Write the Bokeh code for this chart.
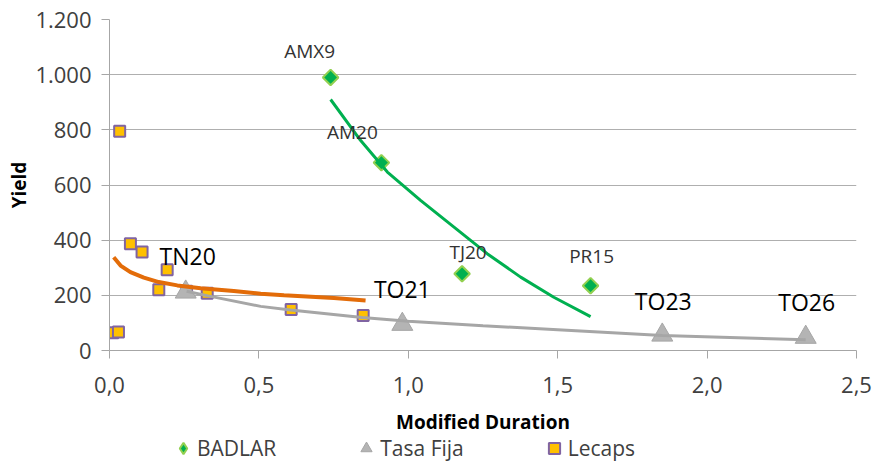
import numpy as np
from bokeh.plotting import figure
from bokeh.layouts import column
from bokeh.models import Range1d, FixedTicker, Legend, LegendItem, ColumnDataSource, Title
from bokeh.core.properties import value
from bokeh.embed import file_html
from bokeh.resources import INLINE

# ---------------- data ----------------
badlar_names = ["AMX9", "AM20", "TJ20", "PR15"]
badlar_x = [0.74, 0.91, 1.18, 1.61]
badlar_y = [990, 681, 278, 235]

tasa_names = ["TN20", "TO21", "TO23", "TO26"]
tasa_x = [0.255, 0.98, 1.85, 2.33]
tasa_y = [212, 95, 56, 48]

lecaps_x = [0.011, 0.030, 0.034, 0.070, 0.109, 0.165, 0.193, 0.258, 0.327, 0.608, 0.849]
lecaps_y = [64, 67, 795, 387, 357, 220, 293, 215, 208, 149, 127]

# trend lines as drawn in the picture
badlar_trend_x = [0.740, 0.840, 0.930, 1.041, 1.153, 1.264, 1.376, 1.487, 1.610]
badlar_trend_y = [910, 762, 647, 544, 447, 351, 266, 193, 123]

tasa_trend_x = [0.258, 0.33, 0.506, 0.606, 0.846, 1.0, 1.25, 1.5, 1.85, 2.33]
tasa_trend_y = [215, 198, 160, 147, 120, 106, 90, 75, 54, 39]

lecaps_trend_x = [0.014, 0.037, 0.070, 0.115, 0.165, 0.227, 0.305, 0.416, 0.506, 0.584, 0.751, 0.857]
lecaps_trend_y = [338, 308, 284, 264, 248, 236, 226, 216, 206, 200, 190, 181]

x_ticks = [0.0, 0.5, 1.0, 1.5, 2.0, 2.5]
x_tick_labels = ["0,0", "0,5", "1,0", "1,5", "2,0", "2,5"]
y_ticks = [0, 200, 400, 600, 800, 1000, 1200]
y_tick_labels = ["0", "200", "400", "600", "800", "1.000", "1.200"]

series_names = ["BADLAR", "Tasa Fija", "Lecaps"]
x_title = "Modified Duration"
y_title = "Yield"

# ---------------- styles ----------------
FONT = "Open Sans"
badlar_label_dx = [-21, -29, 6, 1]
badlar_label_dy = [-26, -31, -22, -30]
tasa_label_dx = [2, 0, 1, 1]
tasa_label_dy = [-36, -35, -34, -35]

BADLAR_STYLE = dict(fill_color="#00B050", line_color="#92D050", line_width=2)
TASA_STYLE = dict(fill_color="#B4B4B4", line_color="#A6A6A6", line_width=1)
LECAPS_STYLE = dict(fill_color="#FFC000", line_color="#8064A2", line_width=2)

# ---------------- main chart ----------------
p = figure(width=875, height=406, output_backend="svg", toolbar_location=None,
           x_range=Range1d(0, 2.5), y_range=Range1d(0, 1200),
           min_border_left=109, min_border_right=19, min_border_top=19, min_border_bottom=56)
p.outline_line_color = None
p.background_fill_color = "white"
p.border_fill_color = "white"

p.xaxis.ticker = FixedTicker(ticks=x_ticks)
p.xaxis.major_label_overrides = {t: l for t, l in zip(x_ticks, x_tick_labels)}
p.yaxis.ticker = FixedTicker(ticks=y_ticks)
p.yaxis.major_label_overrides = {t: l for t, l in zip(y_ticks, y_tick_labels)}
p.xaxis.minor_tick_line_color = None
p.yaxis.minor_tick_line_color = None
for ax in (p.xaxis, p.yaxis):
    ax.axis_line_color = "#A6A6A6"
    ax.major_tick_line_color = "#A6A6A6"
    ax.major_tick_in = 0
    ax.major_tick_out = 8
    ax.major_label_text_font = FONT
    ax.major_label_text_font_size = "22px"
    ax.major_label_text_color = "#404040"
    ax.axis_label_text_font = FONT
    ax.axis_label_text_font_size = "19px"
    ax.axis_label_text_font_style = "bold"
    ax.axis_label_text_color = "#000000"
p.yaxis.axis_label = y_title
p.xaxis.major_label_standoff = 18
p.yaxis.major_label_standoff = 10
p.yaxis.axis_label_standoff = 0

p.xgrid.grid_line_color = None
p.ygrid.grid_line_color = "#AFAFAF"
p.ygrid.grid_line_width = 1
p.ygrid.ticker = FixedTicker(ticks=y_ticks)

p.scatter(lecaps_x, lecaps_y, marker="square", size=11, **LECAPS_STYLE)
p.scatter(tasa_x, tasa_y, marker="triangle", size=21, **TASA_STYLE)
p.scatter(badlar_x, badlar_y, marker="square", angle=np.pi / 4, size=11, **BADLAR_STYLE)

p.line(lecaps_trend_x, lecaps_trend_y, line_color="#E36C09", line_width=4)
p.line(tasa_trend_x, tasa_trend_y, line_color="#A6A6A6", line_width=3)
p.line(badlar_trend_x, badlar_trend_y, line_color="#00B050", line_width=3)

src_b = ColumnDataSource(dict(x=badlar_x, y=badlar_y, t=badlar_names,
                              dx=badlar_label_dx, dy=badlar_label_dy))
p.text(x="x", y="y", text="t", x_offset="dx", y_offset="dy", source=src_b,
       text_font=value(FONT), text_font_size="19px", text_color="#333333",
       text_align="center", text_baseline="middle")
src_t = ColumnDataSource(dict(x=tasa_x, y=tasa_y, t=tasa_names,
                              dx=tasa_label_dx, dy=tasa_label_dy))
p.text(x="x", y="y", text="t", x_offset="dx", y_offset="dy", source=src_t,
       text_font=value(FONT), text_font_size="23px", text_color="#000000",
       text_align="center", text_baseline="middle")

# ---------------- x-axis title + legend strip ----------------
q = figure(width=875, height=56, output_backend="svg", toolbar_location=None,
           x_range=Range1d(0, 1), y_range=Range1d(0, 1),
           x_axis_type=None, y_axis_type=None,
           min_border_left=109, min_border_right=19, min_border_top=0, min_border_bottom=0)
q.outline_line_color = None
q.xgrid.grid_line_color = None
q.ygrid.grid_line_color = None
q.title = Title(text=x_title, align="center", text_font=FONT, text_font_size="19px",
                text_font_style="bold", text_color="#000000", standoff=0, offset=0)

# legend proxies: one real point of each series, which falls outside this strip's ranges
lb = q.scatter(badlar_x[:1], badlar_y[:1], marker="diamond", **BADLAR_STYLE)
lt = q.scatter(tasa_x[:1], tasa_y[:1], marker="triangle", **TASA_STYLE)
ll = q.scatter(lecaps_x[:1], lecaps_y[:1], marker="square", **LECAPS_STYLE)

legend = Legend(items=[LegendItem(label=series_names[0], renderers=[lb]),
                       LegendItem(label=series_names[1], renderers=[lt]),
                       LegendItem(label=series_names[2], renderers=[ll])],
                orientation="horizontal", location=(60, 0),
                padding=0, margin=0, spacing=76,
                glyph_width=28, glyph_height=28, label_standoff=0,
                label_text_font=FONT, label_text_font_size="21px",
                label_text_color="#404040", background_fill_alpha=0, border_line_color=None)
q.add_layout(legend, "center")

open("out.html", "w").write(file_html(column(p, q, spacing=0), INLINE))
